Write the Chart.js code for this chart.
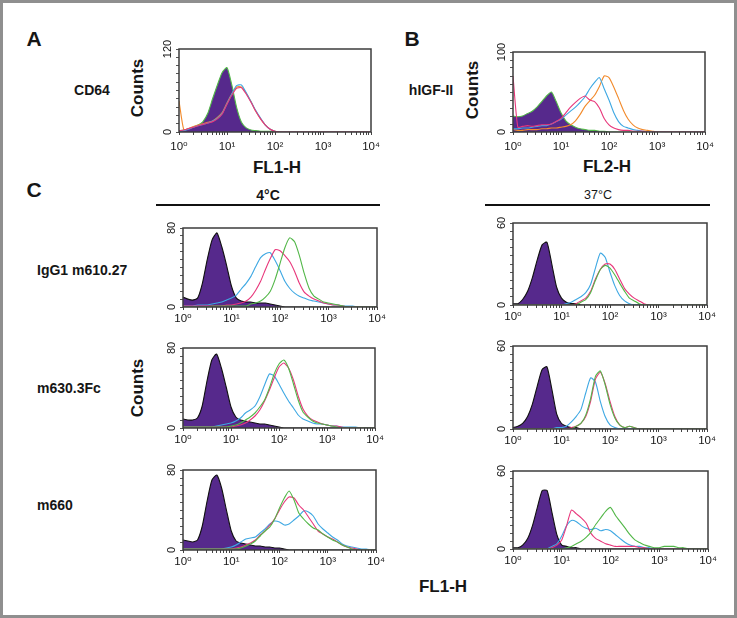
<!DOCTYPE html>
<html>
<head>
<meta charset="utf-8">
<script src="https://cdn.jsdelivr.net/npm/chart.js@4.4.0/dist/chart.umd.min.js"></script>
<style>
  body { margin: 0; background: #fff; }
  #fig { position: relative; width: 737px; height: 618px; overflow: hidden; background: #fff;
         font-family: 'Liberation Sans', Arial, 'DejaVu Sans', sans-serif; color: #161616; }
  #frame { position: absolute; left: 0; top: 0; width: 737px; height: 618px; box-sizing: border-box;
           border: 3px solid #8f8f8f; pointer-events: none; }
  .t { position: absolute; white-space: nowrap; font-weight: bold; transform: translate(-50%, -50%); }
  .l { position: absolute; white-space: nowrap; font-weight: bold; transform: translateY(-50%); font-size: 14px; }
  .rot { transform: translate(-50%, -50%) rotate(-90deg); font-size: 17px; }
  .rule { position: absolute; height: 2px; background: #111; }
  canvas { position: absolute; }
</style>
</head>
<body>
<div id="fig">
  <div class="t" style="left:34px;top:39px;font-size:21px">A</div>
  <div class="t" style="left:412px;top:39px;font-size:21px">B</div>
  <div class="t" style="left:34px;top:190px;font-size:21px">C</div>

  <div class="t" style="left:92px;top:90px;font-size:14px">CD64</div>
  <div class="t" style="left:431px;top:90px;font-size:14px">hIGF-II</div>
  <div class="t rot" style="left:138px;top:88px">Counts</div>
  <div class="t rot" style="left:473px;top:90px">Counts</div>
  <div class="t" style="left:277px;top:168px;font-size:17px">FL1-H</div>
  <div class="t" style="left:607px;top:167px;font-size:17px">FL2-H</div>

  <div class="t" style="left:268px;top:195px;font-size:14px">4°C</div>
  <div class="t" style="left:598px;top:195px;font-size:12.5px;font-weight:normal">37°C</div>
  <div class="rule" style="left:156px;top:204px;width:224px"></div>
  <div class="rule" style="left:485px;top:204px;width:225px"></div>

  <div class="l" style="left:37px;top:270px">IgG1 m610.27</div>
  <div class="l" style="left:37px;top:388px">m630.3Fc</div>
  <div class="l" style="left:37px;top:505px">m660</div>
  <div class="t rot" style="left:138px;top:388px">Counts</div>
  <div class="t" style="left:443px;top:587px;font-size:17px">FL1-H</div>

  <div id="frame"></div>
</div>

<script>
// ---------- DATA ----------
// fluorescence channel (bin centres, 0.1 decade apart)
const fl = [1,1.26,1.58,2,2.51,3.16,3.98,5.01,6.31,7.94,
            10,12.6,15.8,20,25.1,31.6,39.8,50.1,63.1,79.4,
            100,126,158,200,251,316,398,501,631,794,
            1000,1259,1585,1995,2512,3162,3981,5012,6310,7943,
            10000];
const xTickLabels = {1: '10⁰', 10: '10¹', 100: '10²', 1000: '10³', 10000: '10⁴'};

// A  (CD64, FL1-H)
const aFill   = [2,3,5,7,10,15,27,48,68,86, 93,68,36,14,6,3,2,1,1,1, 0,0,0,0,0,0,0,0,0,0, 0,0,0,0,0,0,0,0,0,0, 0];
const aPink   = [2,3,5,7,9,11,13,15,19,26, 40,53,63,64,55,43,30,19,10,4, 1,0,0,0,0,0,0,0,0,0, 0,0,0,0,0,0,0,0,0,0, 0];
const aBlue   = [1,2,4,7,9,11,13,16,20,27, 41,55,67,68,57,44,31,20,10,4, 1,0,0,0,0,0,0,0,0,0, 0,0,0,0,0,0,0,0,0,0, 0];
const aOrange = [45,3,5,8,10,12,14,16,21,28, 42,55,65,65,56,44,30,19,10,4, 1,0,0,0,0,0,0,0,0,0, 0,0,0,0,0,0,0,0,0,0, 0];

// B  (hIGF-II, FL2-H)
const bFill   = [20,19,20,23,26,31,38,45,50,38, 24,14,9,6,4,3,2,2,1,1, 0,0,0,0,0,0,0,0,0,0, 0,0,0,0,0,0,0,0,0,0, 0];
const bPink   = [70,6,7,8,7,8,9,9,10,13, 17,24,31,37,42,45,40,38,30,17, 9,5,3,2,2,1,1,1,0,0, 0,0,0,0,0,0,0,0,0,0, 0];
const bBlue   = [4,4,5,5,6,7,8,8,10,13, 16,21,26,31,37,44,54,62,68,54, 40,24,13,7,5,3,2,1,0,0, 0,0,0,0,0,0,0,0,0,0, 0];
const bOrange = [3,2,2,3,3,3,4,4,5,5, 6,7,9,14,22,32,39,46,57,70, 68,56,42,27,16,9,5,3,2,1, 0,0,0,0,0,0,0,0,0,0, 0];

// C  IgG1 m610.27
const c1lFill  = [10,8,7,9,24,48,68,75,61,42, 21,9,6,5,5,4,4,4,3,2, 1,0,0,0,0,0,0,0,0,0, 0,0,0,0,0,0,0,0,0,0, 0];
const c1lBlue  = [1,1,1,2,2,2,3,4,5,7, 9,12,18,24,31,41,50,54,55,47, 37,26,19,14,11,9,7,6,5,4, 3,2,2,1,1,1,0,0,0,0, 0];
const c1lPink  = [1,1,1,1,1,1,1,1,1,2, 2,3,4,6,10,17,26,38,49,58, 57,52,46,36,24,15,11,8,6,4, 3,2,2,1,0,0,0,0,0,0, 0];
const c1lGreen = [0,0,0,0,0,0,1,1,1,1, 1,1,1,1,3,4,6,10,16,28, 44,60,70,66,52,34,19,11,8,5, 4,3,2,1,0,0,0,0,0,0, 0];
const c1rFill  = [1,1,4,10,20,33,44,46,30,13, 5,2,1,1,0,0,0,0,0,0, 0,0,0,0,0,0,0,0,0,0, 0,0,0,0,0,0,0,0,0,0, 0];
const c1rBlue  = [0,0,0,0,0,0,0,0,0,0, 0,1,2,4,6,9,15,27,38,35, 24,14,7,3,1,0,0,0,0,0, 0,0,0,0,0,0,0,0,0,0, 0];
const c1rPink  = [0,0,0,0,0,0,0,0,0,0, 0,0,0,1,3,5,10,19,26,30, 30,26,19,12,8,5,3,1,0,0, 0,0,0,0,0,0,0,0,0,0, 0];
const c1rGreen = [0,0,0,0,0,0,0,0,0,0, 0,0,0,0,2,4,9,18,26,29, 27,22,16,10,5,3,1,0,0,0, 0,0,0,0,0,0,0,0,0,0, 0];

// C  m630.3Fc
const c2lFill  = [9,8,8,10,22,47,68,74,60,41, 21,11,8,7,6,5,4,4,3,2, 1,0,0,0,0,0,0,0,0,0, 0,0,0,0,0,0,0,0,0,0, 0];
const c2lBlue  = [1,1,1,1,1,1,1,2,3,4, 5,7,10,15,18,22,31,43,54,52, 44,35,27,20,13,9,7,5,4,4, 3,2,2,1,1,1,1,0,0,0, 0];
const c2lPink  = [1,1,1,1,1,1,1,1,1,1, 1,2,3,5,8,12,18,27,38,50, 61,65,60,48,32,19,12,8,6,4, 3,2,2,1,0,0,0,0,0,0, 0];
const c2lGreen = [1,1,1,1,1,1,1,1,1,1, 2,3,5,8,11,15,21,28,40,54, 64,68,60,44,28,16,11,7,5,4, 3,2,1,0,0,0,0,0,0,0, 0];
const c2rFill  = [1,2,4,9,18,31,43,45,29,11, 4,2,1,1,0,0,0,0,0,0, 0,0,0,0,0,0,0,0,0,0, 0,0,0,0,0,0,0,0,0,0, 0];
const c2rBlue  = [0,0,0,0,0,0,0,0,0,1, 1,2,5,9,14,26,37,34,20,9, 3,1,0,0,0,0,0,0,0,0, 0,0,0,0,0,0,0,0,0,0, 0];
const c2rPink  = [0,0,0,0,0,0,0,0,0,0, 0,0,1,2,4,9,20,36,41,33, 20,9,3,1,2,1,0,0,0,0, 0,0,0,0,0,0,0,0,0,0, 0];
const c2rGreen = [0,0,0,0,0,0,0,0,0,0, 0,0,0,2,4,10,22,38,42,32, 18,8,3,1,2,1,0,0,0,0, 0,0,0,0,0,0,0,0,0,0, 0];

// C  m660
const c3lFill  = [10,9,8,10,24,49,70,75,62,40, 19,9,7,6,5,4,4,3,3,2, 2,1,0,0,0,0,0,0,0,0, 0,0,0,0,0,0,0,0,0,0, 0];
const c3lBlue  = [1,1,1,1,1,1,1,1,1,2, 3,5,8,11,12,13,17,21,26,29, 28,25,26,30,34,39,38,34,26,21, 17,13,10,6,4,3,2,1,1,0, 0];
const c3lPink  = [1,1,1,1,1,1,1,1,1,1, 1,2,3,5,7,10,15,19,25,31, 40,48,53,52,45,40,33,26,19,16, 13,11,8,5,3,2,1,0,0,0, 0];
const c3lGreen = [1,1,1,1,1,1,1,1,1,1, 1,1,2,4,6,9,14,19,23,31, 42,52,59,50,37,31,26,22,20,16, 13,10,8,5,3,1,0,0,0,0, 0];
const c3rFill  = [1,1,3,8,18,32,45,45,28,11, 3,2,1,1,0,0,0,0,0,0, 0,0,0,0,0,0,0,0,0,0, 0,0,0,0,0,0,0,0,0,0, 0];
const c3rPink  = [0,0,0,0,0,0,0,0,1,3, 7,18,30,27,24,20,12,8,6,4, 3,2,2,2,2,2,1,1,0,0, 0,0,0,0,0,0,0,0,0,0, 0];
const c3rBlue  = [0,0,0,0,0,0,0,0,2,4, 10,18,22,21,18,16,15,16,14,15, 14,11,8,5,3,2,2,1,1,0, 0,0,0,0,0,0,0,0,0,0, 0];
const c3rGreen = [0,0,0,0,0,0,0,0,0,0, 0,1,2,4,6,9,13,19,24,29, 32,26,21,16,11,7,5,3,2,1, 1,2,2,2,1,1,0,0,0,0, 0];

// ---------- Estilo ----------
const PURPLE = '#56298c', GREEN = '#52b748', PINK = '#e8377b', BLUE = '#3ea8e3', ORANGE = '#f28a2b';
const FONT = "'Liberation Sans', Arial, 'DejaVu Sans', sans-serif";
Chart.defaults.font.family = FONT;

const toPts = vals => vals.map((y, i) => ({x: fl[i], y}));
const line = (vals, color) => ({data: toPts(vals), borderColor: color, borderWidth: 1.1,
  pointRadius: 0, fill: false, tension: 0.2, order: 1});
const filled = (vals, edge) => ({data: toPts(vals), backgroundColor: PURPLE, borderColor: edge,
  borderWidth: 1.1, pointRadius: 0, fill: 'origin', tension: 0.2, order: 5});

// moldura do gráfico + rótulos do eixo y girados
const boxPlugin = {
  id: 'box',
  afterDraw(chart) {
    const {ctx, chartArea: a, scales: {y}} = chart;
    ctx.save();
    ctx.strokeStyle = '#3c3c3c'; ctx.lineWidth = 1.5;
    ctx.strokeRect(a.left, a.top, a.right - a.left, a.bottom - a.top);
    ctx.fillStyle = '#161616'; ctx.font = '11px ' + FONT;
    ctx.textAlign = 'center'; ctx.textBaseline = 'middle';
    [y.min, y.max].forEach(v => {
      ctx.save();
      ctx.translate(a.left - 11, y.getPixelForValue(v));
      ctx.rotate(-Math.PI / 2);
      ctx.fillText(String(v), 0, 0);
      ctx.restore();
    });
    ctx.restore();
  }
};

const fig = document.getElementById('fig');

function panel(box, yMax, datasets, labelPad) {
  const [l, t, r, b] = box;
  const W = r - l + 34, H = b - t + 32;
  const cv = document.createElement('canvas');
  cv.width = W; cv.height = H;
  cv.style.cssText = `left:${l - 20}px;top:${t - 10}px;width:${W}px;height:${H}px`;
  fig.insertBefore(cv, document.getElementById('frame'));
  new Chart(cv, {
    type: 'line',
    data: {datasets},
    options: {
      responsive: false, animation: false, devicePixelRatio: 1,
      layout: {padding: {top: 10, right: 14, left: 0, bottom: 0}},
      plugins: {legend: {display: false}, tooltip: {enabled: false}},
      scales: {
        x: {
          type: 'logarithmic', min: 1, max: 10000,
          border: {display: false},
          grid: {drawOnChartArea: false, drawTicks: true, tickLength: 3, color: '#444'},
          afterBuildTicks: s => {
            s.ticks = s.ticks.filter(tk => {
              const m = tk.value / Math.pow(10, Math.floor(Math.log10(tk.value) + 1e-9));
              return Math.abs(m - Math.round(m)) < 1e-6;
            });
          },
          afterFit: s => { s.height = 22; },
          ticks: {autoSkip: false, maxRotation: 0, minRotation: 0, padding: labelPad,
                  color: '#161616', font: {size: 11.5},
                  callback: v => xTickLabels[v] ?? ''}
        },
        y: {
          min: 0, max: yMax,
          border: {display: false},
          grid: {drawOnChartArea: false, drawTicks: true, tickLength: 3, color: '#555'},
          ticks: {stepSize: yMax / 10, display: false},
          afterFit: s => { s.width = 20; }
        }
      }
    },
    plugins: [boxPlugin]
  });
}

// ---------- Painéis ----------
panel([179, 49, 371, 132], 120,
  [line(aPink, PINK), line(aBlue, BLUE), line(aOrange, ORANGE), filled(aFill, GREEN)], 5);
panel([513, 52, 705, 132], 100,
  [line(bPink, PINK), line(bBlue, BLUE), line(bOrange, ORANGE), filled(bFill, GREEN)], 5);

panel([183, 228, 377, 307], 80,
  [line(c1lGreen, GREEN), line(c1lPink, PINK), line(c1lBlue, BLUE), filled(c1lFill, '#111')], 2);
panel([513, 223, 707, 305], 60,
  [line(c1rGreen, GREEN), line(c1rPink, PINK), line(c1rBlue, BLUE), filled(c1rFill, '#111')], 2);

panel([183, 348, 375, 428], 80,
  [line(c2lGreen, GREEN), line(c2lPink, PINK), line(c2lBlue, BLUE), filled(c2lFill, '#111')], 2);
panel([513, 346, 707, 429], 60,
  [line(c2rGreen, GREEN), line(c2rPink, PINK), line(c2rBlue, BLUE), filled(c2rFill, '#111')], 2);

panel([183, 470, 376, 550], 80,
  [line(c3lGreen, GREEN), line(c3lPink, PINK), line(c3lBlue, BLUE), filled(c3lFill, '#111')], 2);
panel([513, 471, 708, 549], 60,
  [line(c3rGreen, GREEN), line(c3rPink, PINK), line(c3rBlue, BLUE), filled(c3rFill, '#111')], 2);
</script>
</body>
</html>
